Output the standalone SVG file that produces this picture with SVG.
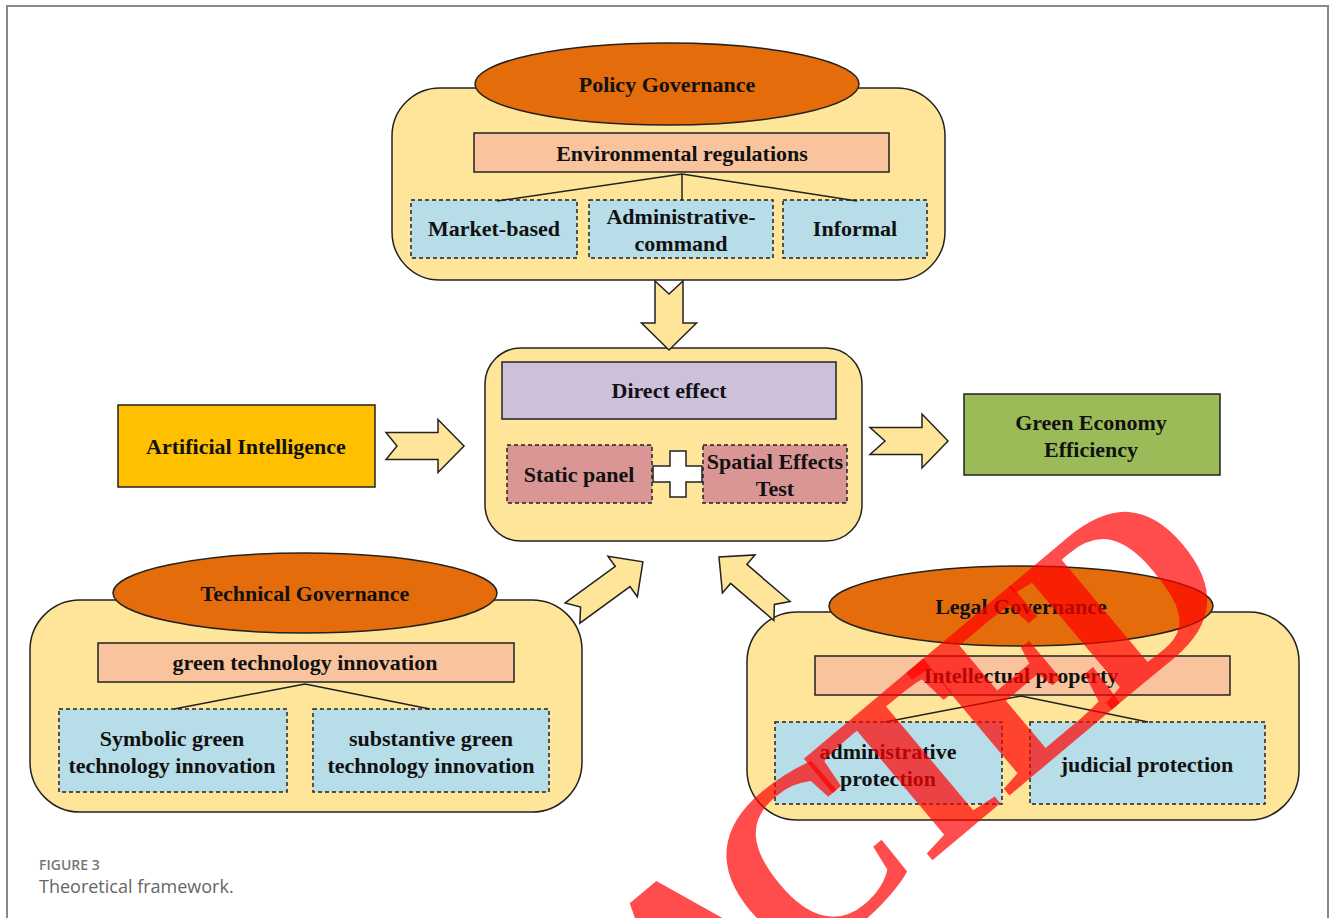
<svg xmlns="http://www.w3.org/2000/svg" width="1330" height="918" viewBox="0 0 1330 918">
<style>
.t{font-family:"Liberation Serif","Times New Roman",serif;font-weight:bold;font-size:22px;fill:#111;text-anchor:middle}
.cont{fill:#FFE599;stroke:#222;stroke-width:1.5}
.ell{fill:#E46C0A;stroke:#222;stroke-width:1.5}
.peach{fill:#F8C39D;stroke:#222;stroke-width:1.5}
.blue{fill:#B7DDE8;stroke:#222;stroke-width:1.5;stroke-dasharray:4 3}
.rose{fill:#DA9694;stroke:#222;stroke-width:1.5;stroke-dasharray:4 3}
.arr{fill:#FFE599;stroke:#222;stroke-width:1.5;stroke-linejoin:miter}
.ln{stroke:#222;stroke-width:1.5;fill:none}
</style>
<rect x="0" y="0" width="1330" height="918" fill="#fff"/>
<path d="M7,918 V6 H1328 V918" fill="none" stroke="#888" stroke-width="2"/>

<g id="policy">
<rect class="cont" x="392" y="88" width="553" height="192" rx="48"/>
<ellipse class="ell" cx="667" cy="84" rx="192" ry="41"/>
<text class="t" x="667" y="92">Policy Governance</text>
<rect class="peach" x="474" y="133" width="415" height="39"/>
<text class="t" x="682" y="161">Environmental regulations</text>
<rect class="blue" x="411" y="200" width="166" height="58"/>
<text class="t" x="494" y="236">Market-based</text>
<rect class="blue" x="589" y="200" width="184" height="58"/>
<text class="t" x="681" y="224">Administrative-</text>
<text class="t" x="681" y="251">command</text>
<rect class="blue" x="783" y="200" width="144" height="58"/>
<text class="t" x="855" y="236">Informal</text>
</g>

<g id="center">
<rect class="cont" x="485" y="348" width="377" height="193" rx="36"/>
<rect x="502" y="362" width="334" height="57" fill="#CCC0DA" stroke="#222" stroke-width="1.5"/>
<text class="t" x="669" y="398">Direct effect</text>
<rect class="rose" x="507" y="445" width="145" height="58"/>
<text class="t" x="579" y="482">Static panel</text>
<rect class="rose" x="703" y="445" width="144" height="58"/>
<text class="t" x="775" y="469">Spatial Effects</text>
<text class="t" x="775" y="496">Test</text>
<path d="M670,451 H686 V466 H702 V482 H686 V497 H670 V482 H653 V466 H670 Z" fill="#fff" stroke="#222" stroke-width="1.5"/>
</g>

<g id="ai">
<rect x="118" y="405" width="257" height="82" fill="#FFC000" stroke="#222" stroke-width="1.5"/>
<text class="t" x="246" y="454">Artificial Intelligence</text>
</g>

<g id="gee">
<rect x="964" y="394" width="256" height="81" fill="#9BBB59" stroke="#222" stroke-width="1.5"/>
<text class="t" x="1091" y="430">Green Economy</text>
<text class="t" x="1091" y="457">Efficiency</text>
</g>

<g id="technical">
<rect class="cont" x="30" y="600" width="552" height="212" rx="50"/>
<ellipse class="ell" cx="305" cy="593" rx="192" ry="40"/>
<text class="t" x="305" y="601">Technical Governance</text>
<rect class="peach" x="98" y="643" width="416" height="39"/>
<text class="t" x="305" y="670">green technology innovation</text>
<rect class="blue" x="59" y="709" width="228" height="83"/>
<text class="t" x="172" y="746">Symbolic green</text>
<text class="t" x="172" y="773">technology innovation</text>
<rect class="blue" x="313" y="709" width="236" height="83"/>
<text class="t" x="431" y="746">substantive green</text>
<text class="t" x="431" y="773">technology innovation</text>
</g>

<g id="legal">
<rect class="cont" x="747" y="612" width="552" height="208" rx="50"/>
<ellipse class="ell" cx="1021" cy="606" rx="192" ry="40"/>
<text class="t" x="1021" y="614">Legal Governance</text>
<rect class="peach" x="815" y="656" width="415" height="39"/>
<text class="t" x="1021" y="683">Intellectual property</text>
<rect class="blue" x="775" y="722" width="227" height="82"/>
<text class="t" x="888" y="759">administrative</text>
<text class="t" x="888" y="786">protection</text>
<rect class="blue" x="1030" y="722" width="235" height="82"/>
<text class="t" x="1147" y="772">judicial protection</text>
</g>

<g id="connectors">
<path class="ln" d="M682,174 L497,201 M682,174 V200 M682,174 L857,201"/>
<path class="ln" d="M305,684 L174,709 M305,684 L430,709"/>
<path class="ln" d="M1021,696 L885,722 M1021,696 L1148,722"/>
<path class="arr" transform="translate(669,281) rotate(90)" d="M0,-14 H42 V-27.5 L69,0 L42,27.5 V14 H0 L13,0 Z"/>
<path class="arr" transform="translate(386,446)" d="M0,-13.5 H52 V-26.5 L78,0 L52,26.5 V13.5 H0 L11,0 Z"/>
<path class="arr" transform="translate(870,441)" d="M0,-13.5 H52 V-27 L78,0 L52,27 V13.5 H0 L15,0 Z"/>
<path class="arr" transform="translate(572.5,613) rotate(-36)" d="M0,-12.5 H62 V-25 L87,0 L62,25 V12.5 H0 L10,0 Z"/>
<path class="arr" transform="translate(782,611) rotate(-139.4)" d="M0,-12.5 H57 V-25 L83,0 L57,25 V12.5 H0 L10,0 Z"/>
</g>

<g id="caption">
<text x="39" y="870" font-family="'Open Sans','Noto Sans',sans-serif" font-size="14" font-weight="600" fill="#777">FIGURE 3</text>
<text x="39" y="893" font-family="'Open Sans','Noto Sans',sans-serif" font-size="18" fill="#666">Theoretical framework.</text>
</g>

<text x="0" y="0" transform="translate(679,1073) rotate(-40)" font-family="'Liberation Serif','Times New Roman',serif" font-weight="bold" font-size="245" letter-spacing="-30" fill="#FF0000" fill-opacity="0.7">ACTED</text>
</svg>
